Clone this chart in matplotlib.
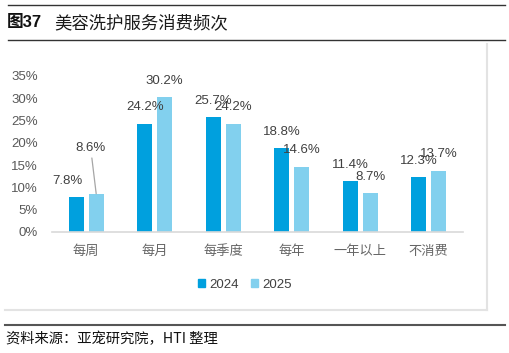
import matplotlib.pyplot as plt
from matplotlib.patches import Patch
from matplotlib.lines import Line2D
import numpy as np

plt.rcParams['font.family'] = ['Liberation Sans', 'Noto Sans CJK SC']

# data
categories = ['每周', '每月', '每季度', '每年', '一年以上', '不消费']
vals_2024 = [7.8, 24.2, 25.7, 18.8, 11.4, 12.3]
vals_2025 = [8.6, 30.2, 24.2, 14.6, 8.7, 13.7]
series_names = ['2024', '2025']
yticks = [0, 5, 10, 15, 20, 25, 30, 35]

c24 = '#00A0DE'
c25 = '#82D0EE'
txt_gray = '#595959'

fig = plt.figure(figsize=(5.10, 3.53), dpi=100)

# header / footer lines and texts
fig.add_artist(Line2D([0.016, 0.99], [1 - 5 / 353] * 2, color='#333333', lw=1.0))
fig.add_artist(Line2D([0.016, 0.99], [1 - 40 / 353] * 2, color='#333333', lw=1.0))
fig.add_artist(Line2D([0.010, 0.99], [1 - 325 / 353] * 2, color='#555555', lw=1.5))
fig.text(0.014, 1 - 23 / 353, '图37', fontsize=12, fontweight='bold', va='center', color='#111111')
fig.text(0.106, 1 - 23 / 353, '美容洗护服务消费频次', fontsize=12.5, fontweight='medium',
         va='center', color='#1a1a1a', family=['Noto Sans CJK SC'])
fig.text(0.012, 1 - 339 / 353, '资料来源：亚宠研究院，HTI 整理', fontsize=10.3, va='center',
         color='#111111', family=['Noto Sans CJK SC', 'Liberation Sans'])

# chart frame (right and bottom edges visible)
fig.add_artist(Line2D([487 / 510, 487 / 510], [1 - 310 / 353, 1 - 44 / 353], color='#E3E3E3', lw=1.5))
fig.add_artist(Line2D([5 / 510, 487 / 510], [1 - 310 / 353] * 2, color='#E3E3E3', lw=1.5))

ax = fig.add_axes([52 / 510, 1 - 232 / 353, 411 / 510, 156 / 353])
x = np.arange(len(categories))
w = 0.22
off = 0.145
ax.bar(x - off, vals_2024, w, color=c24, label=series_names[0])
ax.bar(x + off, vals_2025, w, color=c25, label=series_names[1])

ax.set_xlim(-0.5, len(categories) - 0.5)
ax.set_ylim(0, 35)
ax.set_yticks(yticks)
ax.set_yticklabels([f'{t}%' for t in yticks])
ax.set_xticks(x)
ax.set_xticklabels(categories, family=['Noto Sans CJK SC'])
for s in ['top', 'right', 'left']:
    ax.spines[s].set_visible(False)
ax.spines['bottom'].set_color('#D9D9D9')
ax.spines['bottom'].set_linewidth(1.2)
ax.tick_params(axis='y', length=0, pad=10, labelsize=9.5, labelcolor=txt_gray)
ax.tick_params(axis='x', length=0, pad=9, labelsize=9.5, labelcolor='#666666')

# data labels
lab_kw = dict(textcoords='offset points', ha='center', va='center', fontsize=9.5, color='#404040')
for i, (v1, v2) in enumerate(zip(vals_2024, vals_2025)):
    if i == 0:
        ax.annotate(f'{v1}%', (i - off, v1), xytext=(-6.5, 12), **lab_kw)
        ax.annotate(f'{v2}%', (i + off, v2), xytext=(-4, 33),
                    arrowprops=dict(arrowstyle='-', color='#A6A6A6', lw=0.9, shrinkA=1, shrinkB=0),
                    **lab_kw)
    else:
        ax.annotate(f'{v1}%', (i - off, v1), xytext=(0, 12), **lab_kw)
        ax.annotate(f'{v2}%', (i + off, v2), xytext=(0, 12), **lab_kw)

handles = [Patch(color=c24), Patch(color=c25)]
fig.legend(handles, series_names, loc='center', bbox_to_anchor=(0.48, 1 - 285 / 353),
           ncol=2, frameon=False, fontsize=9.5, handlelength=0.55, handleheight=0.55,
           handletextpad=0.3, columnspacing=0.9, labelcolor='#404040')

fig.savefig('out.png', dpi=100)
